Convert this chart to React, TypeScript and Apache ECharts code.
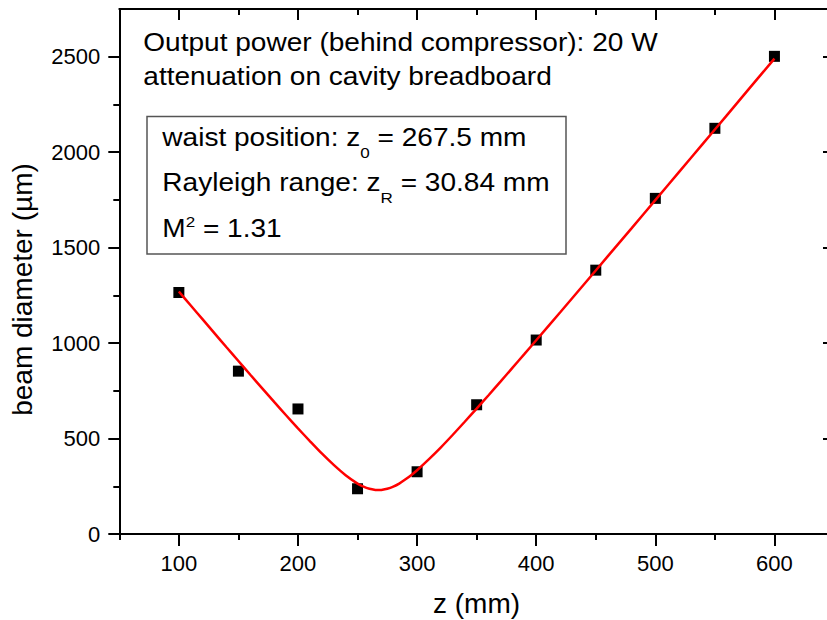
import React, { useEffect, useRef } from "react";
import * as echarts from "echarts";

// measured data
const zPositions = [100, 150, 200, 250, 300, 350, 400, 450, 500, 550, 600];
const beamDiameters = [1265, 853, 655, 237, 326, 677, 1016, 1382, 1758, 2125, 2502];

// fitted curve
const fitZ = [100, 110, 120, 130, 140, 150, 160, 170, 180, 190, 200, 210, 220, 230, 240, 250, 255, 260, 265, 267.5, 270, 275, 280, 285, 290, 295, 300, 310, 320, 330, 340, 350, 360, 370, 380, 390, 400, 420, 440, 460, 480, 500, 520, 540, 560, 580, 600];
const fitD = [1270, 1197, 1124, 1051, 978, 906, 834, 763, 692, 622, 553, 487, 422, 362, 308, 264, 248, 237, 231, 230, 231, 237, 248, 264, 285, 308, 334, 392, 454, 520, 588, 657, 727, 798, 870, 942, 1015, 1160, 1307, 1454, 1601, 1749, 1897, 2045, 2193, 2342, 2490];

const xMajorTicks = [100, 200, 300, 400, 500, 600];
const xMinorTicks = [50, 150, 250, 350, 450, 550, 650];
const yMajorTicks = [0, 500, 1000, 1500, 2000, 2500];
const yMinorTicks = [250, 750, 1250, 1750, 2250];

const FONT = "'Liberation Sans', Arial, sans-serif";

export default function App() {
  const ref = useRef<HTMLDivElement>(null);
  useEffect(() => {
    if (!ref.current) return;
    const chart = echarts.init(ref.current, null, { renderer: "svg" });
    const black = "#000";
    const tickStyle = { color: black, width: 2 };
    const plain = (v: number) => String(v);
    const baseX = { type: "value", min: 50, max: 650, splitLine: { show: false } };
    const baseY = { type: "value", min: 0, max: 2750, splitLine: { show: false } };

    const mainTok = { fontSize: 25.5, lineHeight: 30, verticalAlign: "top", fontFamily: FONT, fill: "#000" };
    const mainTokLow = { ...mainTok, padding: [2, 0, 0, 0] };
    const subTok = { fontSize: 15.5, lineHeight: 15.5, verticalAlign: "top", padding: [20, 0, 0, 0], fontFamily: FONT, fill: "#000" };
    const supTok = { fontSize: 15.5, lineHeight: 15.5, verticalAlign: "top", padding: [0, 0, 0, 0], fontFamily: FONT, fill: "#000" };
    const richText = (x: number, y: number, text: string) => ({
      type: "text",
      x,
      y,
      scaleX: 1.1,
      style: {
        text,
        rich: { m: mainTok, n: mainTokLow, s: subTok, p: supTok },
        fontSize: 25.5,
        fontFamily: FONT,
        fill: "#000",
        align: "left",
        verticalAlign: "top",
      },
    });

    chart.setOption({
      animation: false,
      backgroundColor: "#fff",
      grid: { left: 119.3, top: 9, width: 714.7, height: 525, containLabel: false, outerBoundsMode: "none" },
      xAxis: [
        {
          ...baseX,
          position: "bottom",
          axisLine: { show: true, onZero: false, lineStyle: { color: black, width: 2 } },
          axisTick: { show: true, customValues: xMinorTicks, length: 6, lineStyle: tickStyle },
          axisLabel: { customValues: xMajorTicks, formatter: plain, margin: 18, fontSize: 22, color: black, fontFamily: FONT },
        },
        {
          ...baseX,
          position: "bottom",
          axisLine: { show: false, onZero: false },
          axisTick: { show: true, customValues: xMajorTicks, length: 12, lineStyle: tickStyle },
          axisLabel: { show: false },
        },
        {
          ...baseX,
          position: "top",
          axisLine: { show: true, onZero: false, lineStyle: { color: black, width: 2 } },
          axisTick: { show: true, inside: true, customValues: xMajorTicks, length: 11, lineStyle: tickStyle },
          axisLabel: { show: false },
        },
        {
          ...baseX,
          position: "top",
          axisLine: { show: false, onZero: false },
          axisTick: { show: true, inside: true, customValues: xMinorTicks, length: 6, lineStyle: tickStyle },
          axisLabel: { show: false },
        },
      ],
      yAxis: [
        {
          ...baseY,
          position: "left",
          axisLine: { show: true, onZero: false, lineStyle: { color: black, width: 2 } },
          axisTick: { show: true, customValues: yMajorTicks, length: 11, lineStyle: tickStyle },
          axisLabel: { customValues: yMajorTicks, formatter: plain, margin: 19, fontSize: 22, color: black, fontFamily: FONT },
        },
        {
          ...baseY,
          position: "left",
          axisLine: { show: false, onZero: false },
          axisTick: { show: true, customValues: yMinorTicks, length: 6, lineStyle: tickStyle },
          axisLabel: { show: false },
        },
        {
          ...baseY,
          position: "right",
          axisLine: { show: true, onZero: false, lineStyle: { color: black, width: 2 } },
          axisTick: { show: true, inside: true, customValues: yMajorTicks, length: 11, lineStyle: tickStyle },
          axisLabel: { show: false },
        },
      ],
      series: [
        {
          type: "scatter",
          xAxisIndex: 0,
          yAxisIndex: 0,
          data: zPositions.map((z, i) => [z, beamDiameters[i]]),
          symbol: "rect",
          symbolSize: 11,
          itemStyle: { color: "#000", opacity: 1 },
          z: 2,
        },
        {
          type: "line",
          xAxisIndex: 0,
          yAxisIndex: 0,
          data: fitZ.map((z, i) => [z, fitD[i]]),
          showSymbol: false,
          smooth: 0.2,
          lineStyle: { color: "#ff0000", width: 2.5, opacity: 1 },
          itemStyle: { color: "#ff0000" },
          z: 3,
        },
      ],
      graphic: [
        {
          type: "rect",
          shape: { x: 147, y: 116.5, width: 419, height: 137.5 },
          style: { fill: "#fff", stroke: "#555", lineWidth: 1.5 },
          z: 1,
        },
        { ...richText(143.3, 29.5, "{m|Output power (behind compressor): 20 W}"), z: 5 },
        { ...richText(143.3, 63.5, "{m|attenuation on cavity breadboard}"), z: 5 },
        { ...richText(162.3, 124.5, "{m|waist position: z}{s|0}{m| = 267.5 mm}"), z: 5 },
        { ...richText(162.3, 169.5, "{m|Rayleigh range: z}{s|R}{m| = 30.84 mm}"), z: 5 },
        { ...richText(162.3, 213.5, "{n|M}{p|2}{n| = 1.31}"), z: 5 },
        {
          type: "text",
          x: 22,
          y: 289.5,
          rotation: Math.PI / 2,
          style: { text: "beam diameter (µm)", fontSize: 28, fontFamily: FONT, fill: "#000", align: "center", verticalAlign: "middle" },
        },
        {
          type: "text",
          x: 476.5,
          y: 603.3,
          style: { text: "z (mm)", fontSize: 28, fontFamily: FONT, fill: "#000", align: "center", verticalAlign: "middle" },
        },
      ],
    });
    return () => chart.dispose();
  }, []);
  return (
    <div
      ref={ref}
      style={{ position: "fixed", left: 0, top: 0, width: 827, height: 620, background: "#fff" }}
    />
  );
}
